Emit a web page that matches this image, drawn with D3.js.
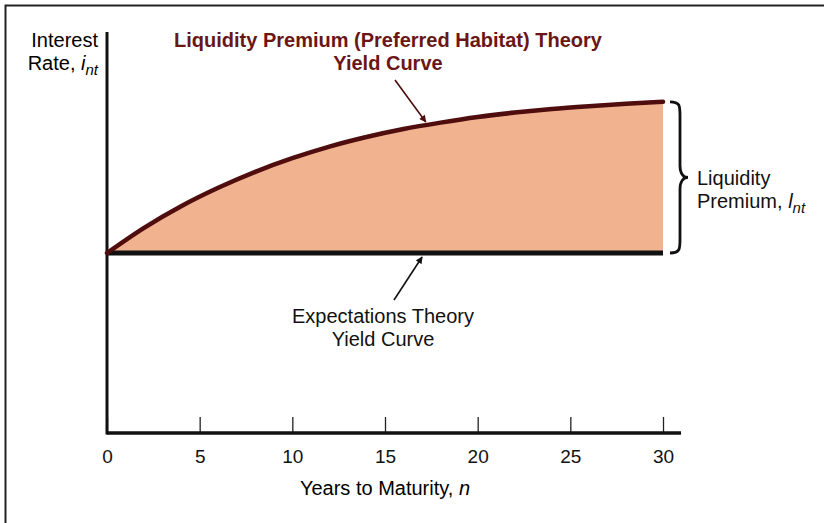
<!DOCTYPE html>
<html>
<head>
<meta charset="utf-8">
<script src="https://cdn.jsdelivr.net/npm/d3@7"></script>
<style>
  body { margin: 0; background: #fff; }
  text { font-family: "Liberation Sans", Arial, sans-serif; }
</style>
</head>
<body>
<div class="chart"></div>
<script>
// data
var years = [0, 2, 4, 6, 8, 10, 12, 14, 16, 18, 20, 22, 24, 26, 28, 30];
var liquidityRate = [4.50, 5.13, 5.67, 6.13, 6.53, 6.87, 7.16, 7.40, 7.60, 7.76, 7.90, 8.01, 8.10, 8.17, 8.23, 8.28];
var expectationsRate = [4.5, 4.5, 4.5, 4.5, 4.5, 4.5, 4.5, 4.5, 4.5, 4.5, 4.5, 4.5, 4.5, 4.5, 4.5, 4.5];
var tickYears = [0, 5, 10, 15, 20, 25, 30];

var svg_w = 824;
var svg_h = 523;
var maroon = "#4f0d0d";
var titleColor = "#6a1616";
var fillColor = "#f1b38f";

var svg = d3.select("div.chart").append("svg")
  .attr("width", svg_w)
  .attr("height", svg_h);

// outer frame (top and left only, the rest is cropped)
svg.append("path")
  .attr("d", "M5.5,523V5.5H824")
  .attr("fill", "none")
  .attr("stroke", "#222")
  .attr("stroke-width", 2);

var x = d3.scaleLinear().domain([0, 30]).range([107, 663]);
var y = d3.scaleLinear().domain([0, 10]).range([433, 33]);

var markers = svg.append("defs");
function arrowHead(id, col) {
  markers.append("marker")
    .attr("id", id)
    .attr("viewBox", "0 0 10 10")
    .attr("refX", 9).attr("refY", 5)
    .attr("markerWidth", 8).attr("markerHeight", 7)
    .attr("markerUnits", "userSpaceOnUse")
    .attr("orient", "auto")
    .append("path")
    .attr("d", "M0,0L10,5L0,10z")
    .attr("fill", col);
}
arrowHead("arrowMaroon", maroon);
arrowHead("arrowBlack", "#111");

// shaded liquidity premium
var rows = years.map(function(d, i) {
  return {n: d, lp: liquidityRate[i], ex: expectationsRate[i]};
});

var area = d3.area()
  .curve(d3.curveMonotoneX)
  .x(function(d) { return x(d.n); })
  .y0(function(d) { return y(d.ex); })
  .y1(function(d) { return y(d.lp); });

svg.append("path")
  .datum(rows)
  .attr("d", area)
  .attr("fill", fillColor);

// x axis, ticks pointing up
var xAxis = d3.axisBottom(x)
  .tickValues(tickYears)
  .tickSize(-16)
  .tickPadding(17);

var gx = svg.append("g")
  .attr("transform", "translate(0," + y(0) + ")")
  .call(xAxis);
gx.select(".domain").remove();
gx.selectAll(".tick line").attr("stroke", "#222").attr("stroke-width", 1.3);
gx.selectAll(".tick text")
  .attr("fill", "#111")
  .style("font-size", "19px");

svg.append("line")
  .attr("x1", x(0)).attr("x2", 681)
  .attr("y1", y(0)).attr("y2", y(0))
  .attr("stroke", "#111").attr("stroke-width", 3.5);

// y axis (no ticks)
svg.append("line")
  .attr("x1", x(0)).attr("x2", x(0))
  .attr("y1", y(10) - 1).attr("y2", y(0) + 1.5)
  .attr("stroke", "#111").attr("stroke-width", 3);

// expectations yield curve
var line = d3.line()
  .curve(d3.curveMonotoneX)
  .x(function(d) { return x(d.n); });

svg.append("path")
  .datum(rows)
  .attr("d", line.y(function(d) { return y(d.ex); }))
  .attr("fill", "none")
  .attr("stroke", "#111")
  .attr("stroke-width", 5);

// liquidity premium yield curve
svg.append("path")
  .datum(rows)
  .attr("d", line.y(function(d) { return y(d.lp); }))
  .attr("fill", "none")
  .attr("stroke", maroon)
  .attr("stroke-width", 4.5)
  .attr("stroke-linecap", "round");

// axis labels
svg.append("text")
  .attr("x", 98).attr("y", 47)
  .attr("text-anchor", "end")
  .style("font-size", "20px")
  .text("Interest");

var rate = svg.append("text")
  .attr("x", 98).attr("y", 70)
  .attr("text-anchor", "end")
  .style("font-size", "20px");
rate.append("tspan").text("Rate, ");
rate.append("tspan").attr("font-style", "italic").text("i");
rate.append("tspan").attr("font-style", "italic").attr("dy", 5).style("font-size", "15px").text("nt");

var xt = svg.append("text")
  .attr("x", (x(0) + x(30)) / 2).attr("y", 495)
  .attr("text-anchor", "middle")
  .style("font-size", "20px");
xt.append("tspan").text("Years to Maturity, ");
xt.append("tspan").attr("font-style", "italic").text("n");

// curve titles
var title = svg.append("g")
  .attr("fill", titleColor)
  .style("font-weight", "bold")
  .style("font-size", "20px");
title.append("text").attr("x", 388).attr("y", 47).attr("text-anchor", "middle")
  .text("Liquidity Premium (Preferred Habitat) Theory");
title.append("text").attr("x", 388).attr("y", 70).attr("text-anchor", "middle")
  .text("Yield Curve");

svg.append("line")
  .attr("x1", 395).attr("y1", 80)
  .attr("x2", x(17.2)).attr("y2", y(7.7) - 3)
  .attr("stroke", maroon).attr("stroke-width", 1.6)
  .attr("marker-end", "url(#arrowMaroon)");

svg.append("text").attr("x", 383).attr("y", 323).attr("text-anchor", "middle")
  .style("font-size", "20px").attr("fill", "#111")
  .text("Expectations Theory");
svg.append("text").attr("x", 383).attr("y", 346).attr("text-anchor", "middle")
  .style("font-size", "20px").attr("fill", "#111")
  .text("Yield Curve");

svg.append("line")
  .attr("x1", 394).attr("y1", 300)
  .attr("x2", x(17.0)).attr("y2", y(4.5) + 4)
  .attr("stroke", "#111").attr("stroke-width", 1.6)
  .attr("marker-end", "url(#arrowBlack)");

// brace for the premium
var bTop = y(liquidityRate[liquidityRate.length - 1]);
var bBot = y(expectationsRate[expectationsRate.length - 1]);
var bMid = (bTop + bBot) / 2;
var bx = 670, bw = 10;
var brace = "M" + bx + "," + bTop +
  "C" + (bx + bw) + "," + bTop + " " + (bx + bw) + "," + (bTop + 4) + " " + (bx + bw) + "," + (bTop + 14) +
  "L" + (bx + bw) + "," + (bMid - 12) +
  "C" + (bx + bw) + "," + (bMid - 3) + " " + (bx + bw + 4) + "," + bMid + " " + (bx + bw + 8) + "," + bMid +
  "C" + (bx + bw + 4) + "," + bMid + " " + (bx + bw) + "," + (bMid + 3) + " " + (bx + bw) + "," + (bMid + 12) +
  "L" + (bx + bw) + "," + (bBot - 14) +
  "C" + (bx + bw) + "," + (bBot - 4) + " " + (bx + bw) + "," + bBot + " " + bx + "," + bBot;
svg.append("path")
  .attr("d", brace)
  .attr("fill", "none")
  .attr("stroke", "#111")
  .attr("stroke-width", 2.8);

svg.append("text").attr("x", 697).attr("y", 185)
  .style("font-size", "20px").attr("fill", "#111")
  .text("Liquidity");
var prem = svg.append("text").attr("x", 697).attr("y", 208)
  .style("font-size", "20px").attr("fill", "#111");
prem.append("tspan").text("Premium, ");
prem.append("tspan").attr("font-style", "italic").text("l");
prem.append("tspan").attr("font-style", "italic").attr("dy", 5).style("font-size", "15px").text("nt");
</script>
</body>
</html>
